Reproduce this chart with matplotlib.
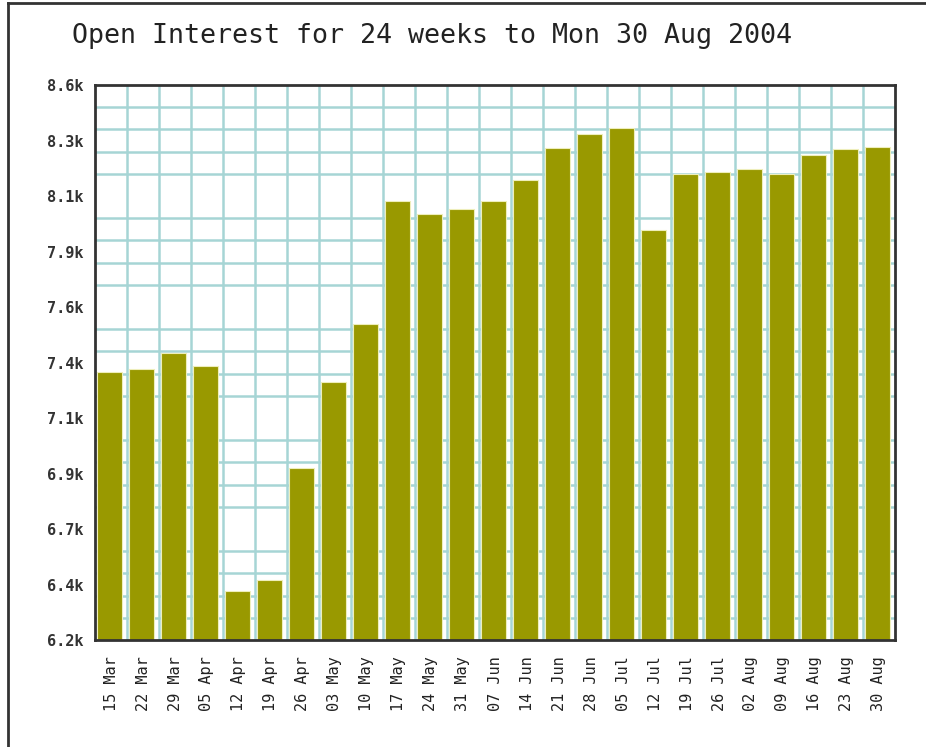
import numpy as np
import matplotlib.pyplot as plt
from matplotlib.lines import Line2D

weeks = ['15 Mar', '22 Mar', '29 Mar', '05 Apr', '12 Apr', '19 Apr', '26 Apr',
         '03 May', '10 May', '17 May', '24 May', '31 May', '07 Jun', '14 Jun',
         '21 Jun', '28 Jun', '05 Jul', '12 Jul', '19 Jul', '26 Jul', '02 Aug',
         '09 Aug', '16 Aug', '23 Aug', '30 Aug']
open_interest = [7390, 7402, 7471, 7415, 6442, 6489, 6974, 7346, 7596, 8129,
                 8072, 8094, 8128, 8221, 8358, 8418, 8444, 8002, 8245, 8254,
                 8267, 8245, 8327, 8352, 8362]
y_ticks = [6230, 6470, 6710, 6950, 7190, 7430, 7670, 7910, 8150, 8390, 8630]
y_labels = ['6.2k', '6.4k', '6.7k', '6.9k', '7.1k', '7.4k', '7.6k', '7.9k',
            '8.1k', '8.3k', '8.6k']

mono = 'DejaVu Sans Mono'

fig = plt.figure(figsize=(9.26, 7.47), dpi=100)
ax = fig.add_axes([95/926, 1-640/747, 800/926, 555/747])

x = np.arange(len(weeks))
ax.bar(x - 0.05, open_interest, width=0.78, color='#999900',
       edgecolor='#eeeebb', linewidth=0.8, zorder=3)

ax.set_xlim(-0.5, len(weeks) - 0.5)
ax.set_ylim(y_ticks[0], y_ticks[-1])

# grid: one line per slot boundary, 25 horizontal bands
ax.set_xticks(x[:-1] + 0.5, minor=True)
ax.set_yticks(np.linspace(y_ticks[0], y_ticks[-1], 26), minor=True)
ax.grid(which='minor', color='#a6d5d5', linewidth=1.8, zorder=0)
ax.tick_params(which='minor', length=0)

ax.set_xticks(x)
ax.set_xticklabels(weeks, rotation=90, fontfamily=mono, fontsize=11,
                   color='#222222')
ax.set_yticks(y_ticks)
ax.set_yticklabels(y_labels, fontfamily=mono, fontsize=11, fontweight='bold',
                   color='#333333')
ax.tick_params(which='major', length=0)
ax.tick_params(axis='x', pad=12)
ax.tick_params(axis='y', pad=8)

for s in ax.spines.values():
    s.set_color('#333333')
    s.set_linewidth(2)
    s.set_zorder(5)

fig.text(72/926, 1-36/747, 'Open Interest for 24 weeks to Mon 30 Aug 2004',
         fontfamily=mono, fontsize=19.2, va='center', ha='left', color='#222222')

# frame lines on top and left edges of the picture
fig.add_artist(Line2D([8/926, 8/926], [0, 1-3/747], color='#333333', linewidth=2))
fig.add_artist(Line2D([8/926, 1], [1-3/747, 1-3/747], color='#333333', linewidth=2))

fig.savefig('out.png', dpi=100)
